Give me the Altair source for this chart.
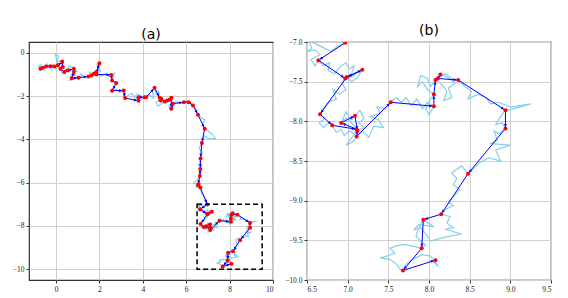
import altair as alt
import pandas as pd

# light-blue random walk
walk = [
(-0.78,-0.70),(-0.72,-0.74),(-0.82,-0.62),(-0.70,-0.55),(-0.74,-0.80),(-0.62,-0.69),(-0.55,-0.80),(-0.50,-0.56),(-0.46,-0.63),(-0.40,-0.52),
(-0.32,-0.70),(-0.26,-0.62),(-0.20,-0.78),(-0.15,-0.55),(-0.08,-0.63),(0.00,-0.76),(0.08,-0.58),(0.02,-0.30),(-0.04,-0.04),(0.10,-0.15),
(0.05,-0.40),(0.28,-0.40),(0.22,-0.55),(0.31,-0.66),(0.15,-0.82),(0.20,-0.74),(0.30,-0.96),(0.38,-0.89),(0.45,-0.74),(0.54,-0.82),
(0.60,-0.60),(0.68,-0.66),(0.82,-0.74),(0.96,-0.84),(0.82,-0.89),(0.90,-1.05),(0.68,-1.00),(0.72,-1.17),(0.62,-1.26),(0.86,-1.22),
(1.03,-1.15),(1.20,-1.04),(1.10,-0.94),(1.30,-1.12),(1.49,-1.09),(1.62,-1.05),(1.55,-0.92),(1.74,-0.97),(1.82,-0.97),(1.85,-0.89),
(1.96,-0.70),(1.88,-0.55),(2.00,-0.48),(1.94,-0.66),(2.05,-0.86),(1.85,-1.00),(2.10,-1.06),(2.30,-0.94),(2.45,-1.10),(2.54,-1.02),
(2.70,-0.94),(2.66,-1.10),(2.58,-1.28),(2.77,-1.40),(2.68,-1.56),(2.58,-1.75),(2.80,-1.70),(2.95,-1.82),(3.12,-1.74),(3.10,-1.95),
(3.18,-2.09),(3.35,-1.95),(3.50,-1.88),(3.60,-2.06),(3.75,-1.90),(3.92,-2.00),(3.80,-2.22),(3.70,-2.10),(3.80,-2.05),(3.95,-2.16),
(4.08,-2.05),(4.15,-2.05),(4.30,-1.95),(4.50,-2.10),(4.44,-1.80),(4.54,-1.62),(4.60,-1.86),(4.72,-1.76),(4.77,-2.08),(4.82,-2.20),
(4.85,-2.12),(4.60,-2.30),(4.70,-2.46),(5.00,-2.25),(5.12,-2.20),(5.05,-2.36),(5.23,-2.17),(5.31,-2.08),(5.42,-2.00),(5.31,-2.30),
(5.20,-2.50),(5.31,-2.58),(5.46,-2.50),(5.38,-2.35),(5.55,-2.25),(5.70,-2.36),(5.89,-2.28),(6.00,-2.20),(6.11,-2.28),(6.31,-2.43),
(6.45,-2.60),(6.54,-2.86),(6.70,-3.00),(6.86,-3.10),(6.75,-3.26),(6.85,-3.51),(7.00,-3.60),(7.20,-3.76),(7.35,-3.96),(7.00,-3.95),
(6.85,-3.84),(6.72,-4.17),(6.60,-4.40),(6.72,-4.60),(6.66,-4.88),(6.58,-5.10),(6.65,-5.37),(6.58,-5.50),(6.63,-5.69),(6.52,-5.86),
(6.35,-6.00),(6.50,-6.10),(6.54,-6.11),(6.57,-6.06),(6.45,-6.20),(6.65,-6.23),(6.70,-6.50),(6.86,-6.70),(6.90,-6.88),(6.97,-7.01),
(6.88,-7.05),(6.80,-7.12),(6.72,-7.08),(6.62,-7.03),(6.52,-6.98),(6.56,-7.08),(6.50,-7.12),(6.60,-7.10),(6.66,-7.16),(6.55,-7.22),
(6.60,-7.30),(6.64,-7.23),(6.70,-7.30),(6.78,-7.26),(6.76,-7.36),(6.84,-7.40),(6.90,-7.32),(6.98,-7.26),(7.02,-7.34),(7.08,-7.30),
(7.05,-7.40),(6.97,-7.46),(7.05,-7.44),(7.12,-7.38),(7.18,-7.35),(7.12,-7.45),(7.05,-7.50),(6.99,-7.44),(6.93,-7.52),(6.98,-7.60),
(6.90,-7.66),(6.82,-7.60),(6.86,-7.72),(6.76,-7.76),(6.70,-7.84),(6.66,-7.91),(6.72,-7.96),(6.65,-8.02),(6.70,-8.08),(6.78,-8.00),
(6.81,-8.05),(6.86,-8.14),(6.92,-8.10),(6.96,-8.18),(7.02,-8.12),(7.08,-8.16),(7.11,-8.10),(7.05,-8.02),(6.98,-7.96),(6.92,-8.02),
(6.98,-7.88),(7.04,-7.98),(7.09,-7.93),(7.15,-7.86),(7.20,-7.96),(7.14,-8.02),(7.20,-8.08),(7.12,-8.12),(7.04,-8.22),(6.98,-8.30),
(7.06,-8.26),(7.11,-8.19),(7.18,-8.12),(7.26,-8.20),(7.32,-8.06),(7.44,-8.08),(7.38,-7.98),(7.28,-7.94),(7.40,-7.90),(7.36,-7.82),
(7.46,-7.84),(7.53,-7.76),(7.60,-7.70),(7.66,-7.76),(7.72,-7.70),(7.78,-7.80),(7.85,-7.72),(7.92,-7.84),(7.98,-7.76),(8.06,-7.81),
(8.00,-7.92),(7.96,-7.84),(8.02,-7.72),(8.06,-7.66),(7.98,-7.60),(7.92,-7.50),(7.86,-7.56),(7.90,-7.42),(7.98,-7.46),(8.02,-7.56),
(8.08,-7.48),(8.16,-7.54),(8.22,-7.62),(8.18,-7.74),(8.28,-7.70),(8.24,-7.58),(8.32,-7.52),(8.22,-7.44),(8.14,-7.41),(8.11,-7.46),
(8.20,-7.40),(8.28,-7.46),(8.36,-7.48),(8.44,-7.56),(8.52,-7.62),(8.48,-7.72),(8.60,-7.66),(8.70,-7.70),(8.76,-7.78),(8.86,-7.76),
(9.00,-7.82),(9.25,-7.78),(9.05,-7.84),(8.94,-7.86),(8.88,-7.94),(8.82,-8.04),(8.90,-8.02),(8.94,-8.09),(8.86,-8.16),(8.80,-8.12),
(8.84,-8.24),(8.76,-8.28),(9.00,-8.30),(8.82,-8.36),(8.88,-8.50),(8.74,-8.46),(8.62,-8.52),(8.55,-8.60),(8.48,-8.66),(8.40,-8.56),
(8.28,-8.65),(8.34,-8.72),(8.30,-8.80),(8.38,-8.86),(8.30,-8.95),(8.24,-9.02),(8.30,-9.06),(8.18,-9.12),(8.15,-9.17),(8.26,-9.20),
(8.22,-9.28),(8.30,-9.34),(8.20,-9.36),(8.40,-9.42),(8.20,-9.46),(8.02,-9.51),(7.96,-9.42),(7.90,-9.34),(7.81,-9.37),(7.88,-9.30),
(8.06,-9.33),(7.93,-9.24),(7.88,-9.34),(7.84,-9.44),(7.90,-9.52),(7.96,-9.56),(7.91,-9.60),(7.82,-9.58),(7.70,-9.55),(7.60,-9.57),
(7.52,-9.60),(7.58,-9.66),(7.48,-9.70),(7.40,-9.72),(7.52,-9.74),(7.60,-9.80),(7.65,-9.87),(7.68,-9.88),(7.72,-9.80),(7.80,-9.74),
(7.92,-9.68),(8.02,-9.70),(8.12,-9.83),(8.06,-9.78),(8.08,-9.75),
]

# sampled points (red dots, blue path)
samples = [
(-0.72,-0.74),(-0.62,-0.69),(-0.46,-0.63),(-0.26,-0.62),(-0.08,-0.63),(0.08,-0.58),(0.28,-0.40),(0.31,-0.66),(0.20,-0.74),(0.38,-0.89),
(0.54,-0.82),(0.82,-0.74),(0.82,-0.89),(0.72,-1.17),(1.03,-1.15),(1.49,-1.09),(1.62,-1.05),(1.74,-0.97),(1.82,-0.97),(1.85,-0.89),
(2.00,-0.48),(1.85,-1.00),(2.54,-1.02),(2.58,-1.28),(2.77,-1.40),(2.58,-1.75),(3.12,-1.74),(3.18,-2.09),(3.80,-2.22),(3.80,-2.05),
(4.08,-2.05),(4.15,-2.05),(4.54,-1.62),(4.77,-2.08),(4.82,-2.20),(4.85,-2.12),(5.00,-2.25),(5.12,-2.20),(5.23,-2.17),(5.31,-2.08),
(5.31,-2.58),(5.38,-2.35),(5.89,-2.28),(6.11,-2.28),(6.31,-2.43),(6.54,-2.86),(6.85,-3.51),(6.72,-4.17),(6.66,-4.88),(6.65,-5.37),
(6.63,-5.69),(6.54,-6.11),(6.57,-6.06),(6.65,-6.23),(6.97,-7.01),(6.64,-7.23),(6.97,-7.46),(7.18,-7.35),(6.99,-7.44),(6.66,-7.91),
(6.81,-8.05),(7.11,-8.10),(6.92,-8.02),(7.09,-7.93),(7.12,-8.12),(7.11,-8.19),(7.53,-7.76),(8.06,-7.81),(8.06,-7.66),(8.08,-7.48),
(8.14,-7.41),(8.11,-7.46),(8.36,-7.48),(8.94,-7.86),(8.94,-8.09),(8.48,-8.66),(8.15,-9.17),(7.93,-9.24),(7.91,-9.60),(7.68,-9.88),
(8.08,-9.75),
]

box_x = [6.5]
box_x2 = [9.5]
box_y = [-10.0]
box_y2 = [-7.0]

titles = ["(a)", "(b)"]
a_xticks = [0, 2, 4, 6, 8, 10]
a_yticks = [0, -2, -4, -6, -8, -10]
b_xticks = [6.5, 7.0, 7.5, 8.0, 8.5, 9.0, 9.5]
b_yticks = [-7.0, -7.5, -8.0, -8.5, -9.0, -9.5, -10.0]

walk_df = pd.DataFrame({"i": range(len(walk)), "x": [p[0] for p in walk], "y": [p[1] for p in walk]})
samp_df = pd.DataFrame({"i": range(len(samples)), "x": [p[0] for p in samples], "y": [p[1] for p in samples]})
box_df = pd.DataFrame({"x": box_x, "x2": box_x2, "y": box_y, "y2": box_y2})


def panel(title, xdom, ydom, xticks, yticks, fmt, with_box, back):
    xs = alt.Scale(domain=xdom, nice=False, zero=False)
    ys = alt.Scale(domain=ydom, nice=False, zero=False)
    xa = alt.Axis(values=xticks, format=fmt, title=None)
    ya = alt.Axis(values=yticks, format=fmt, title=None)
    X = alt.X("x:Q", scale=xs, axis=xa)
    Y = alt.Y("y:Q", scale=ys, axis=ya)
    light = alt.Chart(walk_df).mark_line(color="#87CEEB", strokeWidth=1.2, clip=True).encode(
        x=X, y=Y, order="i:Q")
    blue = alt.Chart(samp_df).mark_line(color="#0000FF", strokeWidth=1, clip=True).encode(
        x=X, y=Y, order="i:Q")
    heads = alt.Chart(samp_df).transform_window(
        nx="lead(x)", ny="lead(y)", sort=[alt.SortField("i")]
    ).transform_filter("datum.nx != null").transform_calculate(
        dx="datum.nx - datum.x", dy="datum.ny - datum.y"
    ).transform_calculate(
        L="sqrt(datum.dx*datum.dx + datum.dy*datum.dy)"
    ).transform_filter(f"datum.L > {back * 1.6}").transform_calculate(
        ax=f"datum.nx - datum.dx/datum.L*{back}",
        ay=f"datum.ny - datum.dy/datum.L*{back}",
        ang="(atan2(datum.dx, datum.dy)*180/PI + 360) % 360"
    ).mark_point(shape="triangle-up", filled=True, size=10, color="#0000FF", opacity=1, clip=True).encode(
        x=alt.X("ax:Q", scale=xs, axis=xa), y=alt.Y("ay:Q", scale=ys, axis=ya),
        angle=alt.Angle("ang:Q", scale=None))
    red = alt.Chart(samp_df).mark_circle(color="#FF0000", size=16, opacity=1, clip=True).encode(x=X, y=Y)
    layers = [light, blue, heads, red]
    if with_box:
        rect = alt.Chart(box_df).mark_rect(fillOpacity=0, stroke="black", strokeWidth=1.5,
                                           strokeDash=[5, 3]).encode(
            x=X, x2="x2:Q", y=Y, y2="y2:Q")
        layers.append(rect)
    return alt.layer(*layers).properties(
        width=244, height=238,
        title=alt.TitleParams(title, font="DejaVu Sans", fontSize=14, fontWeight="normal",
                              offset=0, color="black"))


pa = panel(titles[0], [-1.25, 10], [-10.5, 0.5], a_xticks, a_yticks, "d", True, 0.15)
pb = panel(titles[1], [6.5, 9.5], [-10.0, -7.0], b_xticks, b_yticks, ".1f", False, 0.04)

chart = alt.hconcat(pa, pb, spacing=9, padding={"left": 3, "top": 15, "right": 0, "bottom": 0}).configure_view(
    stroke="#333333", strokeWidth=1.2
).configure_axis(
    domain=False, grid=True, gridColor="#d0d0d0", gridWidth=1,
    tickColor="#333333", tickSize=3, labelFont="Liberation Serif", labelFontSize=7.5,
    labelColor="#222222", labelPadding=2
)

chart.save("out.html", embed_options={"renderer": "svg", "actions": False})
